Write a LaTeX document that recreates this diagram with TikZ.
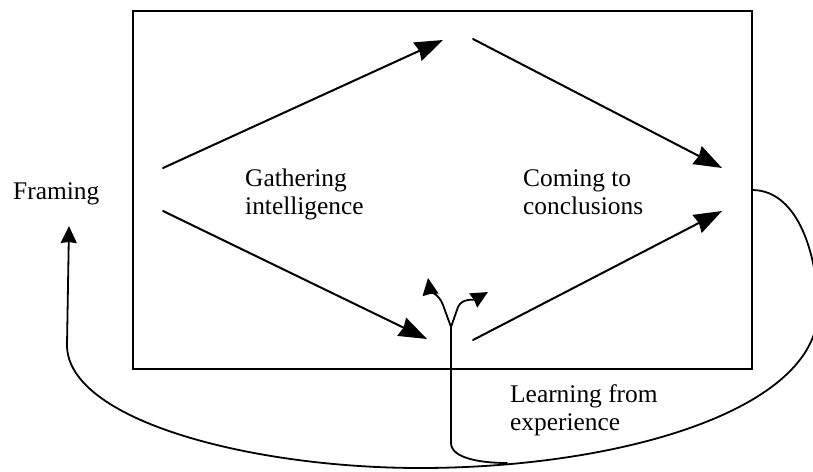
\documentclass[tikz,border=0pt]{standalone}
\usepackage{fontspec}
\setmainfont{Liberation Serif}
\usetikzlibrary{arrows.meta}

\begin{document}
\begin{tikzpicture}[x=1pt,y=-1pt,line cap=round,
  flow/.style={line width=2pt,-{Stealth[length=28pt,width=20pt,inset=2pt]}},
  twig/.style={line width=1.8pt,-{Stealth[length=17pt,width=16pt,inset=1pt]}},
  loopline/.style={line width=1.8pt},
  txt/.style={anchor=base west,inner sep=0pt,align=left,font=\fontsize{25.4}{27.5}\selectfont}]
\useasboundingbox (0,0) rectangle (813,471);
\draw[line width=2pt] (133,11) rectangle (752,369);
% corner points of the diamond
\coordinate (w1) at (163,168);
\coordinate (w2) at (163,211);
\coordinate (n1) at (443,40);
\coordinate (n2) at (473,39);
\coordinate (e1) at (722,168);
\coordinate (e2) at (722,211);
\coordinate (s1) at (427,339);
\coordinate (s2) at (473,340);
\draw[flow] (w1) -- (n1);
\draw[flow] (n2) -- (e1);
\draw[flow] (w2) -- (s1);
\draw[flow] (s2) -- (e2);
% fork
\coordinate (fork) at (451,327);
\coordinate (root) at (451,443);
\coordinate (tipl) at (428,278);
\coordinate (tipr) at (488,292);
\draw[loopline] (root) -- (fork);
\draw[twig] (fork) -- (443,305) .. controls (439,294) and (430,291) .. (tipl);
\draw[twig] (fork) -- (458,307) .. controls (462,298) and (474,300) .. (tipr);
\draw[loopline] (root) .. controls (451,458) and (480,463) .. (507,463);
% feedback loop
\coordinate (out) at (752,190);
\coordinate (back) at (69,226);
\draw[twig] (out) .. controls (800,190) and (818,260) .. (818,310)
  .. controls (818,410) and (620,468) .. (420,468)
  .. controls (250,468) and (67,420) .. (67,345) -- (back);
% texts
\node[txt] (framing) at (13,199) {Framing};
\node[txt] (gather) at (245,214) {Gathering\\intelligence};
\node[txt] (coming) at (523,214) {Coming to\\conclusions};
\node[txt] (learn) at (510,430) {Learning from\\experience};
\end{tikzpicture}
\end{document}
